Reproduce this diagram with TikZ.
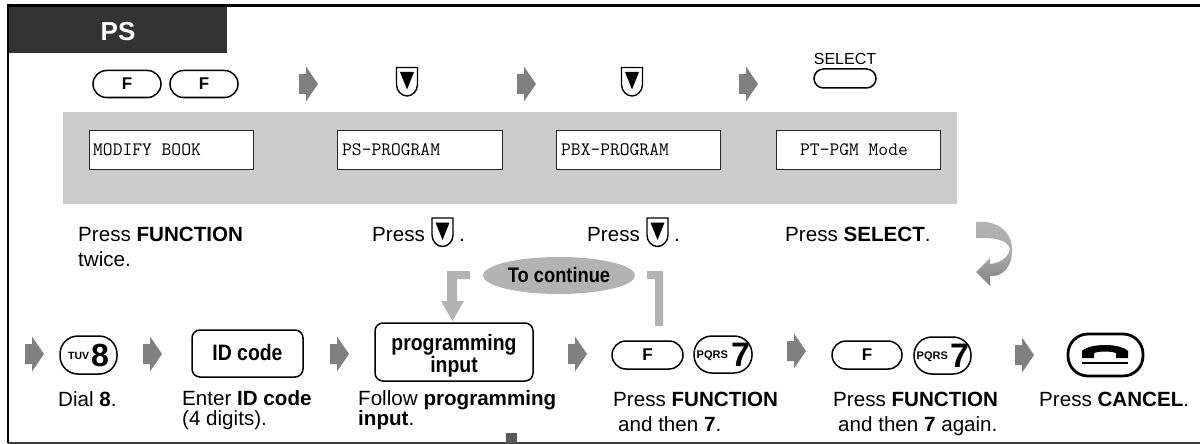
\documentclass[tikz,border=0pt]{standalone}
\usepackage{fontspec}
\setmainfont{Liberation Sans}
\usetikzlibrary{shapes.geometric,shapes.misc}
\newcommand{\fsz}[2]{\fontsize{#1}{#2}\selectfont}
\newcommand{\narrowtxt}[1]{\scalebox{0.87}[1]{#1}}
\definecolor{panelgray}{HTML}{CCCCCC}
\definecolor{arrowgray}{HTML}{808080}
\definecolor{lightgray2}{HTML}{B3B3B3}
\definecolor{headdark}{HTML}{333333}
\tikzset{
  x=1pt,y=-1pt,
  txt/.style={anchor=base west,inner sep=0pt,align=left,font=\fsz{20.6}{25}},
  txttight/.style={txt,font=\fsz{20.6}{20}},
  lcd/.style={draw=black!85,line width=1pt,fill=white,rectangle,minimum height=39pt,inner sep=0pt,anchor=north west},
  lcdtext/.style={anchor=base west,inner sep=0pt,font=\ttfamily\fsz{19}{20}},
  fkey/.style={draw=black,line width=1.5pt,fill=white,rounded rectangle,minimum width=68pt,minimum height=27pt,inner sep=0pt,font=\bfseries\fsz{17}{17}},
  inbox/.style={draw=black,line width=1.5pt,fill=white,rounded corners=8pt,inner sep=0pt,align=center},
  pill/.style={draw=black,line width=1.5pt,fill=white,rounded corners=18pt},
  smalllabel/.style={inner sep=0pt,anchor=base west,font=\bfseries\fsz{10.5}{11}},
  bigdigit/.style={inner sep=0pt,anchor=base west,font=\bfseries\fsz{32}{32}},
  blockarrow/.pic={\fill[arrowgray] (0,-10) -- (7,-10) -- (7,-17.5) -- (19,0) -- (7,17.5) -- (7,10) -- (0,10) -- cycle;},
  downkey/.pic={
    \draw[black,line width=1.4pt,fill=white] (-10.5,-14) -- (10.5,-14) -- (10.5,3) .. controls (10.5,10) and (5,14.5) .. (0,14.5) .. controls (-5,14.5) and (-10.5,10) .. (-10.5,3) -- cycle;
    \fill[black] (-7,-9.5) -- (7,-9.5) -- (0,8) -- cycle;}
}
\begin{document}
\begin{tikzpicture}
\useasboundingbox (0,0) rectangle (1200,444);
\fill[white] (0,0) rectangle (1200,444);
% frame
\fill[headdark] (8,6) rectangle (227,53);
\draw[black!75,line width=1.2pt] (8,443) -- (1200,443);
\draw[black,line width=2.5pt] (8,443) -- (8,5.5) -- (1200,5.5);
\fill[black!65] (506,433) rectangle (517,443);
\node[inner sep=0pt,text=white,font=\bfseries\fsz{26}{26}] (title) at (118,32) {PS};
% top keys
\node[fkey] (f1) at (127,84) {F};
\node[fkey] (f2) at (204,84) {F};
\pic at (407,81.5) {downkey};
\pic at (632,81.5) {downkey};
\node[inner sep=0pt,anchor=base,font=\fsz{16}{16}] (sel) at (845,65) {SELECT};
\node[fkey,minimum width=62pt,minimum height=19pt] (selkey) at (845,78.5) {};
\pic at (299,84) {blockarrow};
\pic at (517,84) {blockarrow};
\pic at (739,84) {blockarrow};
% panel
\fill[panelgray] (63,112) rectangle (957,204);
\node[lcd,minimum width=164pt] (b1) at (89,130) {};
\node[lcd,minimum width=165pt] (b2) at (337,130) {};
\node[lcd,minimum width=164pt] (b3) at (556,130) {};
\node[lcd,minimum width=164pt] (b4) at (776,130) {};
\node[lcdtext] (t1) at (93,155) {MODIFY BOOK};
\node[lcdtext] (t2) at (342,155) {PS-PROGRAM};
\node[lcdtext] (t3) at (561,155) {PBX-PROGRAM};
\node[lcdtext] (t4) at (800,155) {PT-PGM Mode};
% captions upper
\node[txt] (c1) at (78,266) {Press \textbf{FUNCTION}\\twice.};
\node[txt] (c2) at (372,241) {\makebox[87pt][l]{Press}.};
\node[txt] (c3) at (587,241) {\makebox[87pt][l]{Press}.};
\node[txt] (c4) at (785,241) {Press \textbf{SELECT}.};
\pic at (442.5,232) {downkey};
\pic at (657.5,232) {downkey};
% curved arrow
\path[top color=lightgray2,bottom color=arrowgray,middle color=lightgray2!85!arrowgray]
 (976,222) .. controls (998,220) and (1012,232) .. (1012,250)
 .. controls (1012,268) and (1002,277) .. (990,276) -- (990,286) -- (976,272) -- (990,258) -- (990,264)
 .. controls (1000,263) and (1008,258) .. (1010,249)
 .. controls (1008,240) and (994,237) .. (976,238) -- cycle;
% to continue
\node[ellipse,fill=lightgray2,minimum width=152pt,minimum height=37pt,inner sep=0pt] (cont) at (559,275.5) {};
\node[inner sep=0pt,font=\bfseries\fsz{21}{21}] (contt) at (559,275) {\narrowtxt{To continue}};
\fill[lightgray2] (470,271) -- (447,271) -- (447,301) -- (441,301) -- (452.5,321) -- (464,301) -- (457,301) -- (457,279) -- (470,279) -- cycle;
\fill[lightgray2] (647,271) -- (663,271) -- (663,326) -- (655,326) -- (655,279) -- (647,279) -- cycle;
% bottom arrows
\pic at (25,354) {blockarrow};
\pic at (143,354) {blockarrow};
\pic at (330,354) {blockarrow};
\pic at (568,354) {blockarrow};
\pic at (787,351) {blockarrow};
\pic at (1015,355) {blockarrow};
% bottom keys
\draw[pill] (60,336) rectangle (117,374);
\node[smalllabel] (tuv) at (68,359) {TUV};
\node[bigdigit] (n8) at (91,366) {8};
\node[inbox,minimum width=111pt,minimum height=47pt] (idb) at (247.5,353.5) {};
\node[inner sep=0pt,font=\bfseries\fsz{22.3}{22.3}] (idt) at (247.5,353) {\narrowtxt{ID code}};
\node[inbox,minimum width=158pt,minimum height=58pt] (prog) at (454,352) {};
\node[inner sep=0pt,anchor=base,font=\bfseries\fsz{22.3}{22.3}] (p1) at (454,350) {\narrowtxt{programming}};
\node[inner sep=0pt,anchor=base,font=\bfseries\fsz{22.3}{22.3}] (p2) at (454,372) {\narrowtxt{input}};
\node[fkey,minimum width=71pt,minimum height=28pt] (f3) at (647.5,355) {F};
\draw[pill] (694,336) rectangle (752,373);
\node[smalllabel,font=\bfseries\fsz{11}{11}] (q1) at (696.5,358.5) {PQRS};
\node[bigdigit,font=\bfseries\fsz{34}{34}] (s1) at (731,366) {7};
\node[fkey,minimum width=70pt,minimum height=28pt] (f4) at (867,355) {F};
\draw[pill] (914,337) rectangle (971,374);
\node[smalllabel,font=\bfseries\fsz{11}{11}] (q2) at (916.5,359.5) {PQRS};
\node[bigdigit,font=\bfseries\fsz{34}{34}] (s2) at (950,367) {7};
% cancel
\draw[black,line width=2.8pt,fill=white,rounded corners=20pt] (1068,334) rectangle (1143,376);
\fill[black] (1082,358) -- (1082,351) .. controls (1090,343) and (1120,343) .. (1128,351) -- (1128,358) -- (1116,358) -- (1116,353) .. controls (1110,351) and (1100,351) .. (1094,353) -- (1094,358) -- cycle;
\fill[black] (1082,362) rectangle (1128,364);
% captions lower
\node[txt] (d1) at (58,406) {Dial \textbf{8}.};
\node[txttight] (d2) at (182,425) {Enter \textbf{ID code}\\(4 digits).};
\node[txttight] (d3) at (358,425) {Follow \textbf{programming}\\\textbf{input}.};
\node[txt] (d4) at (613,431) {Press \textbf{FUNCTION}\\\hspace*{5pt}and then \textbf{7}.};
\node[txt] (d5) at (833,431) {Press \textbf{FUNCTION}\\\hspace*{5pt}and then \textbf{7} again.};
\node[txt] (d6) at (1039,406) {Press \textbf{CANCEL}.};
\end{tikzpicture}
\end{document}
